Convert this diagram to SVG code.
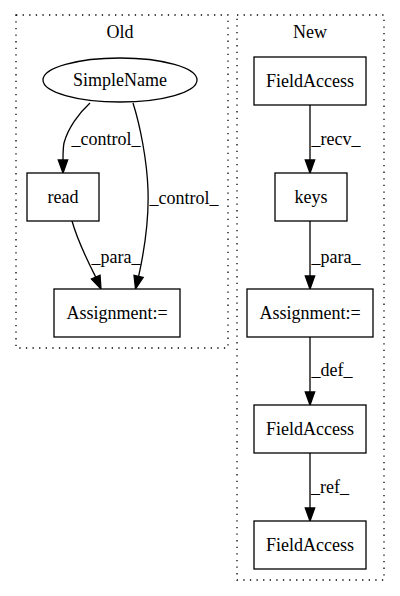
<svg xmlns="http://www.w3.org/2000/svg" width="400" height="596" viewBox="0 0 400 596">
<style>
text{font-family:"Liberation Serif","Times New Roman",serif;font-size:18px;fill:#000;text-anchor:middle}
.cl{fill:none;stroke:#000;stroke-width:1.3;stroke-dasharray:1.3,5.3}
.n{fill:#fff;stroke:#000;stroke-width:1.3}
.e{fill:none;stroke:#000;stroke-width:1.3}
.a{fill:#000;stroke:#000;stroke-width:1.3}
</style>
<rect width="400" height="596" fill="#fff"/>
<g id="cluster_old">
<rect class="cl" x="16" y="15" width="212" height="333"/>
<text x="120" y="38" font-family="Liberation Serif">Old</text>
</g>
<g id="cluster_new">
<rect class="cl" x="237" y="15" width="147" height="565"/>
<text x="310" y="38" font-family="Liberation Serif">New</text>
</g>
<g id="connectors" font-family="Liberation Serif">
<path class="e" d="M90,103 C79,113 68,128 64,143 C63,148 63,154 63,160"/>
<polygon class="a" points="58.3,160 63,173 67.7,160"/>
<text x="106" y="145">_control_</text>
<path class="e" d="M133,103 C140,125 147,160 148,190 C149,220 144,252 138.6,276.4"/>
<polygon class="a" points="134.0,275.3 135.5,289 143.2,277.5"/>
<text x="184" y="204">_control_</text>
<path class="e" d="M72,221 C76,235 85,256 95.75,277.1"/>
<polygon class="a" points="91.45,279.0 101,289 100.05,275.2"/>
<text x="116" y="263">_para_</text>
<path class="e" d="M310,105 L310,160"/>
<polygon class="a" points="305.3,160 310,173 314.7,160"/>
<text x="336" y="145">_recv_</text>
<path class="e" d="M310,221 L310,276"/>
<polygon class="a" points="305.3,276 310,289 314.7,276"/>
<text x="336" y="263">_para_</text>
<path class="e" d="M310,337 L310,392"/>
<polygon class="a" points="305.3,392 310,405 314.7,392"/>
<text x="332" y="376">_def_</text>
<path class="e" d="M310,453 L310,508"/>
<polygon class="a" points="305.3,508 310,521 314.7,508"/>
<text x="330" y="493">_ref_</text>
</g>
<g id="SimpleName" font-family="Liberation Serif">
<ellipse class="n" cx="120" cy="80" rx="77" ry="22"/>
<text x="120" y="86">SimpleName</text>
</g>
<g id="read" font-family="Liberation Serif">
<rect class="n" x="27" y="173" width="72" height="48"/>
<text x="63" y="203">read</text>
</g>
<g id="Assignment_old" font-family="Liberation Serif">
<rect class="n" x="54" y="289" width="126" height="48"/>
<text x="117" y="319">Assignment:=</text>
</g>
<g id="FieldAccess_1" font-family="Liberation Serif">
<rect class="n" x="254" y="57" width="112" height="48"/>
<text x="310" y="87">FieldAccess</text>
</g>
<g id="keys" font-family="Liberation Serif">
<rect class="n" x="275" y="173" width="72" height="48"/>
<text x="311" y="203">keys</text>
</g>
<g id="Assignment_new" font-family="Liberation Serif">
<rect class="n" x="247" y="289" width="126" height="48"/>
<text x="310" y="319">Assignment:=</text>
</g>
<g id="FieldAccess_2" font-family="Liberation Serif">
<rect class="n" x="254" y="405" width="112" height="48"/>
<text x="310" y="435">FieldAccess</text>
</g>
<g id="FieldAccess_3" font-family="Liberation Serif">
<rect class="n" x="254" y="521" width="112" height="48"/>
<text x="310" y="551">FieldAccess</text>
</g>
</svg>
